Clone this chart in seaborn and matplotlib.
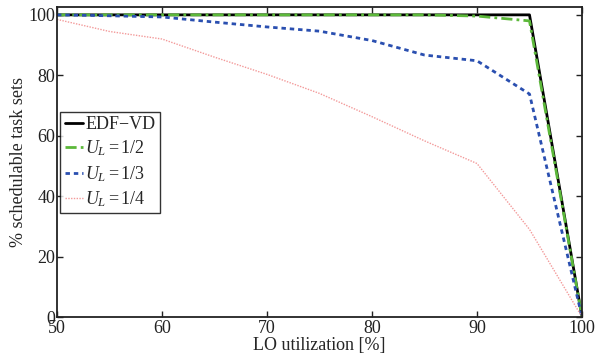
import numpy as np
import pandas as pd
import matplotlib
matplotlib.use("Agg")
import matplotlib.pyplot as plt
import seaborn as sns

# --- data --------------------------------------------------------------------
util = [50, 55, 60, 65, 70, 75, 80, 85, 90, 95, 100]
edf_vd = [100, 100, 100, 100, 100, 100, 100, 100, 100, 100, 0]
ul_half = [100, 100, 100, 100, 100, 100, 100, 100, 99.6, 98, 0]
ul_third = [100, 99.7, 99.3, 97.6, 96, 94.6, 91.5, 86.7, 84.8, 73.8, 0]
ul_quarter = [98.5, 94.5, 92, 86, 80.3, 74, 66.3, 58.3, 50.8, 29, 0]

sns.set_theme(style="ticks")
plt.rcParams["font.family"] = "serif"
plt.rcParams["font.serif"] = ["Liberation Serif", "DejaVu Serif"]
plt.rcParams["mathtext.fontset"] = "custom"
plt.rcParams["mathtext.it"] = "Liberation Serif:italic"
plt.rcParams["mathtext.rm"] = "Liberation Serif"

fig, ax = plt.subplots(figsize=(5.95, 3.58), dpi=100)
fig.subplots_adjust(left=57/595, right=582/595, top=1-7/358, bottom=1-317/358)

series = [
    ("EDF\u2212VD", edf_vd, dict(color="black", lw=2.0, ls="-")),
    (r"$\mathit{U_L}$$\mathit{=1/2}$", ul_half, dict(color="#5cb83a", lw=2.0, ls=(0, (4, 1.5, 1, 1.5)))),
    (r"$\mathit{U_L}$$\mathit{=1/3}$", ul_third, dict(color="#2a4fb0", lw=2.0, ls=(0, (1.6, 1.4)))),
    (r"$\mathit{U_L}$$\mathit{=1/4}$", ul_quarter, dict(color="#f39a9a", lw=1.0, ls=(0, (1, 1)))),
]
for label, vals, st in series:
    sns.lineplot(x=util, y=vals, ax=ax, label=label, color=st["color"],
                 linewidth=st["lw"], linestyle=st["ls"])

ax.set_xlim(50, 100)
ax.set_ylim(0, 102.6)
ax.set_xticks(range(50, 101, 10))
ax.set_yticks(range(0, 101, 20))
ax.tick_params(direction="in", top=True, right=True, length=4, width=1,
               labelsize=13, colors="#222222")
ax.tick_params(axis="x", pad=2)
ax.tick_params(axis="y", pad=1)
for s in ax.spines.values():
    s.set_linewidth(1.3)
    s.set_color("#222222")
ax.set_xlabel("LO utilization [%]", fontsize=13, labelpad=0)
ax.set_ylabel("% schedulable task sets", fontsize=13, labelpad=1)

leg = ax.legend(loc="upper left", bbox_to_anchor=(0.006, 0.662), fontsize=13,
                frameon=True, fancybox=False, edgecolor="black", handlelength=1.0,
                handletextpad=0.15, borderpad=0.25, labelspacing=0.3, borderaxespad=0)
leg.get_frame().set_linewidth(1.0)

fig.savefig("out.png", dpi=100)
